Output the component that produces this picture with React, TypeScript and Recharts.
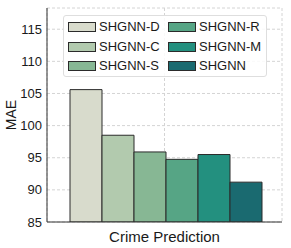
import React from 'react';
import { BarChart, Bar, XAxis, YAxis, CartesianGrid } from 'recharts';

const categories = ['Crime Prediction'];
const seriesNames = ['SHGNN-D', 'SHGNN-C', 'SHGNN-S', 'SHGNN-R', 'SHGNN-M', 'SHGNN'];
const seriesValues = [105.6, 98.5, 95.9, 94.75, 95.5, 91.2];
const seriesColors = ['#d8dbcc', '#b2caae', '#87b794', '#56a585', '#23907f', '#1a6a70'];
const yTicks = [85, 90, 95, 100, 105, 110, 115];

const data = categories.map((c) => {
  const row: Record<string, any> = { name: c };
  seriesNames.forEach((s, i) => {
    row[s] = seriesValues[i];
  });
  return row;
});

const FONT = '"Liberation Sans", Arial, sans-serif';

const LegendBox = () => {
  const cols = [seriesNames.slice(0, 3), seriesNames.slice(3)];
  return (
    <div
      style={{
        position: 'absolute',
        left: 63,
        top: 15,
        width: 202,
        height: 60,
        border: '1px solid #dedede',
        borderRadius: 3,
        background: 'rgba(255,255,255,0.85)',
        fontFamily: FONT,
        fontSize: 13,
        color: '#1a1a1a',
      }}
    >
      {cols.map((col, ci) =>
        col.map((name, ri) => {
          const idx = ci * 3 + ri;
          return (
            <div
              key={name}
              style={{
                position: 'absolute',
                left: 4 + ci * 100,
                top: 4 + ri * 19.5,
                height: 14,
                display: 'flex',
                alignItems: 'center',
                whiteSpace: 'nowrap',
              }}
            >
              <div
                style={{
                  width: 26,
                  height: 8,
                  background: seriesColors[idx],
                  border: '1px solid #2b2b2b',
                  marginRight: 3,
                }}
              />
              <span style={{ lineHeight: '14px' }}>{name}</span>
            </div>
          );
        })
      )}
    </div>
  );
};

const XTick = (props: any) => {
  const { x, y, payload } = props;
  return (
    <text x={x} y={y + 6} textAnchor="middle" dominantBaseline="central" fontFamily={FONT} fontSize={15} fill="#1a1a1a">
      {payload.value}
    </text>
  );
};

export default function App() {
  return (
    <div style={{ position: 'absolute', left: 0, top: 0, width: 291, height: 248, background: '#fff' }}>
      <BarChart
        width={291}
        height={248}
        data={data}
        margin={{ top: 8, right: 9, left: 0, bottom: 0 }}
        barCategoryGap={23}
        barGap={0}
      >
        <CartesianGrid stroke="#d4d4d4" strokeDasharray="3 2" />
        <XAxis
          dataKey="name"
          height={26}
          tickLine={false}
          axisLine={{ stroke: '#333', strokeWidth: 1 }}
          tick={<XTick />}
          interval={0}
        />
        <XAxis
          xAxisId="top"
          dataKey="name"
          orientation="top"
          height={0}
          tick={false}
          tickLine={false}
          axisLine={{ stroke: '#333', strokeWidth: 1 }}
        />
        <YAxis
          domain={[85, 118.3]}
          ticks={yTicks}
          width={47}
          tickLine={false}
          tickSize={5}
          tickMargin={0}
          allowDataOverflow
          axisLine={{ stroke: '#333', strokeWidth: 1 }}
          tick={{ fontFamily: FONT, fontSize: 13, fill: '#1a1a1a' }}
          label={{
            value: 'MAE',
            angle: -90,
            position: 'insideLeft',
            offset: 11,
            style: { fontFamily: FONT, fontSize: 14, fill: '#1a1a1a', textAnchor: 'middle' },
          }}
        />
        <YAxis
          yAxisId="right"
          orientation="right"
          domain={[85, 118.3]}
          width={0}
          tick={false}
          tickLine={false}
          axisLine={{ stroke: '#333', strokeWidth: 1 }}
        />
        {seriesNames.map((s, i) => (
          <Bar
            key={s}
            dataKey={s}
            fill={seriesColors[i]}
            stroke="#2b2b2b"
            strokeWidth={1}
            isAnimationActive={false}
          />
        ))}
      </BarChart>
      <LegendBox />
    </div>
  );
}
